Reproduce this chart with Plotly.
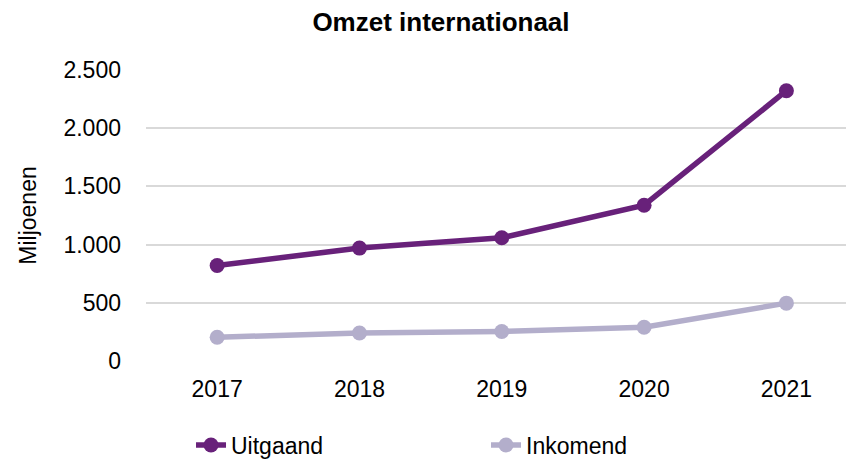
import plotly.graph_objects as go

years = ["2017", "2018", "2019", "2020", "2021"]
uitgaand = [821, 970, 1059, 1338, 2322]
inkomend = [204, 241, 253, 290, 497]
y_ticks = [0, 500, 1000, 1500, 2000, 2500]
y_tick_labels = ["0", "500", "1.000", "1.500", "2.000", "2.500"]

fig = go.Figure()
fig.add_trace(go.Scatter(x=years, y=uitgaand, name="Uitgaand", mode="lines+markers",
                         line=dict(color="#68217a", width=5.5), marker=dict(size=15, color="#68217a")))
fig.add_trace(go.Scatter(x=years, y=inkomend, name="Inkomend", mode="lines+markers",
                         line=dict(color="#b3aecb", width=5.5), marker=dict(size=15, color="#b3aecb")))

# page body has an 8px margin, so layout is offset by -8px to match the reference
fig.update_layout(
    width=854, height=460,
    paper_bgcolor="white", plot_bgcolor="white",
    font=dict(family="Liberation Sans, Arial, sans-serif", size=23, color="#000000"),
    title=dict(text="<b>Omzet internationaal</b>", x=0.507, xanchor="center", xref="container",
               y=0.969, yanchor="middle", yref="container", font=dict(size=26)),
    margin=dict(l=138, r=8, t=62, b=107),
    showlegend=True,
    legend=dict(orientation="h", xref="container", x=0.2143, xanchor="left",
                yref="container", y=0.05, yanchor="middle",
                entrywidth=250, entrywidthmode="pixels", font=dict(size=23)),
    xaxis=dict(type="category", range=[-0.5, 4.475], showgrid=False, showline=False, ticks="",
               ticklabelstandoff=12, tickfont=dict(size=23)),
    yaxis=dict(range=[0, 2500], tickvals=y_ticks, ticktext=y_tick_labels, showgrid=True,
               gridcolor="#d9d9d9", gridwidth=1.5, zeroline=False, showline=False, ticks="",
               ticklabelstandoff=24,
               title=dict(text="Miljoenen", font=dict(size=23), standoff=20), tickfont=dict(size=23)),
)

fig.write_html("out.html")
